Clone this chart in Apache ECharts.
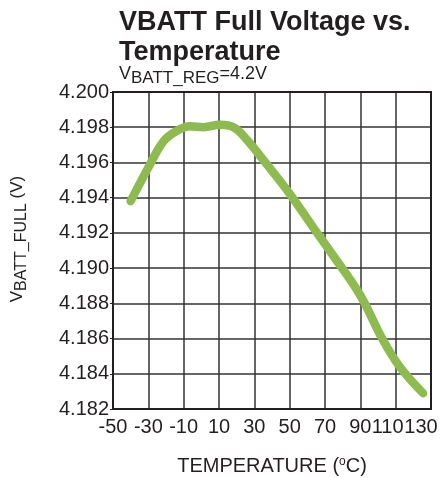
<!DOCTYPE html>
<html>
<head>
<meta charset="utf-8">
<script src="https://cdn.jsdelivr.net/npm/echarts@6/dist/echarts.min.js"></script>
<style>
  html, body { margin: 0; padding: 0; background: #fff; }
  #chart { width: 440px; height: 478px; }
</style>
</head>
<body>
<div id="chart"></div>
<script>
// VBATT full voltage vs temperature
var temps = [-40, -29, -21.4, -13.8, -6.3, 1.2, 10.6, 18.2, 25.7, 37, 50.2, 63.4, 74.7, 89.7, 102.9, 112.3, 125.5];
var volts = [4.1938, 4.1959, 4.1972, 4.1978, 4.19805, 4.1980, 4.19814, 4.1980, 4.1973, 4.1959, 4.1942, 4.1923, 4.1907, 4.1885, 4.1859, 4.1844, 4.1829];

var myChart = echarts.init(document.getElementById('chart'));

var font = 'Liberation Sans, Arial, sans-serif';
var ink = '#231f20';

var option = {
    animation: false,
    title: [{
        text: 'VBATT Full Voltage vs.\nTemperature',
        left: 114,
        top: 3,
        textStyle: {
            fontFamily: font,
            fontSize: 27,
            fontWeight: 'bold',
            color: ink,
            lineHeight: 30
        }
    }, {
        text: '{v|V}{s|BATT_REG}{v|=4.2V}',
        left: 114,
        top: 60,
        textStyle: {
            fontWeight: 'normal',
            rich: {
                v: { fontFamily: font, fontSize: 18, fontWeight: 'normal', color: ink, lineHeight: 20, verticalAlign: 'top' },
                s: { fontFamily: font, fontSize: 17, fontWeight: 'normal', color: ink, lineHeight: 20, padding: [5, 0, 0, 0], verticalAlign: 'top' }
            }
        }
    }],
    grid: {
        left: 113,
        right: 9,
        top: 92,
        bottom: 69,
        containLabel: false,
        outerBoundsMode: 'none'
    },
    xAxis: {
        type: 'value',
        min: -50,
        max: 130,
        interval: 20,
        name: 'TEMPERATURE ({o|o}C)',
        nameLocation: 'middle',
        nameGap: 47,
        nameTextStyle: {
            fontFamily: font,
            fontSize: 20,
            color: ink,
            rich: {
                o: { fontFamily: font, fontSize: 12, color: ink, padding: [0, 0, 9, 0] }
            }
        },
        axisLine: { show: true, onZero: false, lineStyle: { color: ink, width: 2 } },
        axisTick: { show: false },
        axisLabel: {
            fontFamily: font,
            fontSize: 20,
            color: ink,
            margin: 8,
            formatter: function (v) {
                if (v === 110) return '{a|110}';
                if (v === 130) return '{b|130}';
                return String(v);
            },
            rich: {
                a: { fontFamily: font, fontSize: 20, color: ink, padding: [0, 16, 0, 0] },
                b: { fontFamily: font, fontSize: 20, color: ink, padding: [0, 20, 0, 0] }
            }
        },
        splitLine: { show: true, lineStyle: { color: '#333', width: 1.5 } }
    },
    yAxis: {
        type: 'value',
        min: 4.182,
        max: 4.200,
        interval: 0.002,
        axisLine: { show: true, onZero: false, lineStyle: { color: ink, width: 2 } },
        axisTick: { show: true, length: 3, lineStyle: { color: ink, width: 1 } },
        axisLabel: {
            fontFamily: font,
            fontSize: 20,
            color: ink,
            margin: 4,
            formatter: function (v) { return v.toFixed(3); }
        },
        splitLine: { show: true, lineStyle: { color: '#333', width: 1.5 } }
    },
    series: [{
        type: 'line',
        data: temps.map(function (t, i) { return [t, volts[i]]; }),
        smooth: 0.4,
        symbol: 'none',
        lineStyle: { color: '#8dbb50', width: 8.5, cap: 'round', join: 'round' }
    }],
    graphic: [{
        type: 'rect',
        shape: { x: 113, y: 92, width: 318, height: 317 },
        style: { fill: 'none', stroke: ink, lineWidth: 2 },
        z: 100
    }, {
        // y axis name, rotated
        type: 'text',
        x: 19,
        y: 239,
        rotation: Math.PI / 2,
        style: {
            text: '{v|V}{s|BATT_FULL}{v| (V)}',
            align: 'center',
            verticalAlign: 'middle',
            rich: {
                v: { fontFamily: font, fontSize: 17, fill: ink, lineHeight: 20, verticalAlign: 'top' },
                s: { fontFamily: font, fontSize: 16, fill: ink, lineHeight: 20, padding: [5, 0, 0, 0], verticalAlign: 'top' }
            }
        }
    }]
};

myChart.setOption(option);
</script>
</body>
</html>
